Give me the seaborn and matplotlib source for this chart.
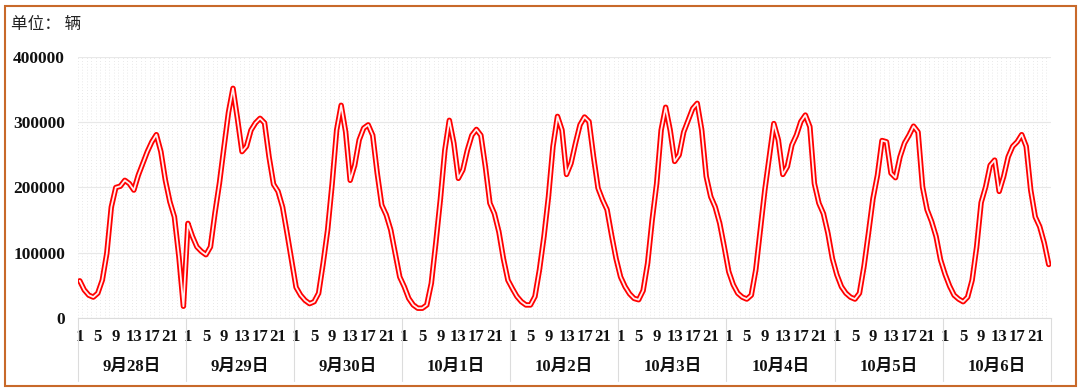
import numpy as np
import pandas as pd
import matplotlib
matplotlib.use('Agg')
import matplotlib.pyplot as plt
import matplotlib.transforms as mtransforms
from matplotlib.patches import Rectangle
import seaborn as sns

# 每小时车流量（辆），每天24个点
dates = ['9月28日', '9月29日', '9月30日', '10月1日', '10月2日',
         '10月3日', '10月4日', '10月5日', '10月6日']
hour_labels = ['1', '5', '9', '13', '17', '21']

d0928 = [57000, 43000, 35000, 32000, 38000, 58000, 99000, 170000, 200000, 202000, 211000, 206000,
         196000, 219000, 237000, 255000, 270000, 281000, 255000, 211000, 178000, 155000, 94000, 18000]
d0929 = [145000, 125000, 109000, 102000, 97000, 109000, 161000, 207000, 262000, 315000, 352000, 305000,
         255000, 263000, 288000, 299000, 306000, 299000, 247000, 205000, 194000, 170000, 130000, 88000]
d0930 = [47000, 35000, 27000, 22000, 25000, 38000, 84000, 135000, 206000, 288000, 326000, 285000,
         211000, 234000, 273000, 291000, 296000, 280000, 222000, 173000, 158000, 135000, 99000, 63000]
d1001 = [48000, 30000, 20000, 15000, 15000, 20000, 53000, 115000, 181000, 257000, 303000, 268000,
         214000, 227000, 257000, 280000, 289000, 280000, 232000, 176000, 160000, 132000, 91000, 58000]
d1002 = [45000, 33000, 25000, 20000, 20000, 33000, 74000, 125000, 186000, 263000, 309000, 288000,
         220000, 237000, 268000, 296000, 308000, 301000, 247000, 199000, 181000, 166000, 127000, 91000]
d1003 = [63000, 48000, 37000, 30000, 28000, 42000, 84000, 150000, 206000, 288000, 323000, 288000,
         240000, 250000, 285000, 303000, 321000, 329000, 288000, 217000, 186000, 170000, 145000, 109000]
d1004 = [71000, 51000, 38000, 32000, 29000, 35000, 74000, 135000, 196000, 247000, 298000, 273000,
         220000, 232000, 265000, 280000, 301000, 311000, 293000, 206000, 176000, 160000, 130000, 91000]
d1005 = [66000, 48000, 38000, 32000, 29000, 38000, 79000, 130000, 183000, 219000, 272000, 270000,
         222000, 215000, 247000, 268000, 280000, 294000, 285000, 201000, 166000, 148000, 125000, 89000]
d1006 = [67000, 49000, 35000, 29000, 25000, 32000, 58000, 109000, 177000, 201000, 234000, 242000,
         194000, 217000, 247000, 263000, 270000, 281000, 263000, 196000, 155000, 140000, 115000, 82000]

days = [d0928, d0929, d0930, d1001, d1002, d1003, d1004, d1005, d1006]
values = np.concatenate(days)
n = len(values)
df = pd.DataFrame({'x': np.arange(n) + 0.5, 'v': values})

sns.set_theme(style='white')
plt.rcParams['font.family'] = ['Liberation Serif', 'Noto Sans CJK SC', 'DejaVu Sans']

fig = plt.figure(figsize=(10.8, 3.92), dpi=100)
ax = fig.add_axes([77.5 / 1080, 74 / 392, 973.5 / 1080, 261 / 392])

# 双线效果：红色外线 + 白色内线
sns.lineplot(data=df, x='x', y='v', color='#ff0000', lw=3.9, ax=ax,
             solid_joinstyle='round', solid_capstyle='round')
sns.lineplot(data=df, x='x', y='v', color='#fff0f0', lw=1.3, ax=ax,
             solid_joinstyle='round', solid_capstyle='round')

ax.set_xlim(0, n)
ax.set_ylim(0, 400000)
ax.set_yticks(range(0, 400001, 100000))
ax.set_yticklabels([str(v) for v in range(0, 400001, 100000)],
                   fontsize=12.5, fontweight='bold', color='#111111')

tick_pos = [d * 24 + int(h) - 0.5 for d in range(len(days)) for h in hour_labels]
ax.set_xticks(tick_pos)
ax.set_xticklabels(hour_labels * len(days), fontsize=12, fontweight='bold', color='#111111')
ax.set_xticks(np.arange(0, n + 1), minor=True)

ax.grid(True, which='major', axis='y', color='#e8e8e8', lw=0.8)
ax.grid(True, which='minor', axis='x', color='#e2e2e2', lw=0.6, ls=(0, (1, 2.5)))
ax.grid(False, which='major', axis='x')
ax.set_axisbelow(True)
ax.tick_params(axis='both', which='both', length=0)
ax.tick_params(axis='x', pad=8)
ax.tick_params(axis='y', pad=9)
ax.set_xlabel('')
ax.set_ylabel('')

for s in ['top', 'right', 'left']:
    ax.spines[s].set_visible(False)
ax.spines['bottom'].set_color('#dcdcdc')
ax.spines['bottom'].set_linewidth(0.8)

trans = mtransforms.blended_transform_factory(ax.transData, ax.transAxes)
for d in range(len(days) + 1):
    ax.plot([d * 24, d * 24], [0, -0.24], transform=trans, color='#dcdcdc',
            lw=0.8, clip_on=False)
for d, lab in enumerate(dates):
    ax.text(d * 24 + 12, -0.188, lab, transform=trans, ha='center', va='center',
            fontsize=12, fontweight='bold', color='#111111')

fig.text(11 / 1080, 1 - 25 / 392, '单位： 辆', fontsize=12, va='center', ha='left',
         color='#222222', family=['Noto Sans CJK SC', 'DejaVu Sans'])

fig.patches.append(Rectangle((5 / 1080, 1 - 386 / 392), 1071 / 1080, 380 / 392,
                             transform=fig.transFigure, fill=False,
                             edgecolor='#c8692a', lw=1.5))

fig.savefig('out.png', dpi=100)
plt.close(fig)
